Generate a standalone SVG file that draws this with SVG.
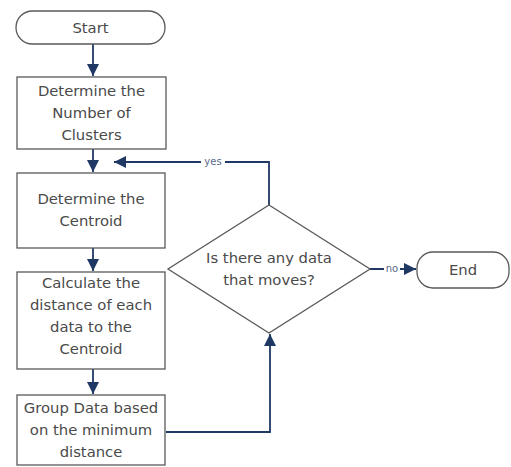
<svg xmlns="http://www.w3.org/2000/svg" width="511" height="467" viewBox="0 0 511 467">
<defs>
<marker id="ah" viewBox="0 0 10 10" refX="10" refY="5" markerWidth="12" markerHeight="12" orient="auto" markerUnits="userSpaceOnUse">
<path d="M0,0 L10,5 L0,10 z" fill="#1f3864"/>
</marker>
<style>
.shape{fill:#fff;stroke:#595959;stroke-width:1.3}
.t{font-family:"DejaVu Sans","Liberation Sans",sans-serif;font-size:14.8px;fill:#4a4a4a;text-anchor:middle}
.lbl{font-family:"DejaVu Sans","Liberation Sans",sans-serif;font-size:10px;fill:#5a6a8a;text-anchor:middle}
.c{fill:none;stroke:#1f3864;stroke-width:1.8}
</style>
</defs>
<rect width="511" height="467" fill="#fff"/>
<g id="connectors">
<line class="c" x1="93" y1="44" x2="93" y2="76" marker-end="url(#ah)"/>
<line class="c" x1="93" y1="149" x2="93" y2="172" marker-end="url(#ah)"/>
<line class="c" x1="93" y1="248" x2="93" y2="271" marker-end="url(#ah)"/>
<line class="c" x1="93" y1="369" x2="93" y2="394" marker-end="url(#ah)"/>
<polyline class="c" points="269,205 269,162 114,162" marker-end="url(#ah)"/>
<polyline class="c" points="166,432 270,432 270,334" marker-end="url(#ah)"/>
<line class="c" x1="370" y1="269" x2="416" y2="269" marker-end="url(#ah)"/>
<rect x="201" y="156" width="24" height="11" fill="#fff"/>
<text class="lbl" x="213" y="165">yes</text>
<rect x="384" y="263" width="16" height="11" fill="#fff"/>
<text class="lbl" x="392" y="272">no</text>
</g>
<g id="start">
<rect class="shape" x="16" y="11" width="149" height="33" rx="16.5"/>
<text class="t" x="90.5" y="32.5">Start</text>
</g>
<g id="n1">
<rect class="shape" x="17" y="77" width="149" height="72"/>
<text class="t" x="91.5" y="96">Determine the</text>
<text class="t" x="91.5" y="118">Number of</text>
<text class="t" x="91.5" y="140">Clusters</text>
</g>
<g id="n2">
<rect class="shape" x="17" y="173" width="148" height="75"/>
<text class="t" x="91" y="204">Determine the</text>
<text class="t" x="91" y="226">Centroid</text>
</g>
<g id="n3">
<rect class="shape" x="17" y="272" width="148" height="97"/>
<text class="t" x="91" y="288">Calculate the</text>
<text class="t" x="91" y="310">distance of each</text>
<text class="t" x="91" y="332">data to the</text>
<text class="t" x="91" y="354">Centroid</text>
</g>
<g id="n4">
<rect class="shape" x="17" y="395" width="148" height="70"/>
<text class="t" x="91" y="413">Group Data based</text>
<text class="t" x="91" y="435">on the minimum</text>
<text class="t" x="91" y="457">distance</text>
</g>
<g id="decision">
<polygon class="shape" points="269,205 370,269 269,333 168,269"/>
<text class="t" x="269" y="263">Is there any data</text>
<text class="t" x="269" y="285">that moves?</text>
</g>
<g id="end">
<rect class="shape" x="417" y="252" width="92" height="36" rx="16"/>
<text class="t" x="463" y="275">End</text>
</g>
</svg>
